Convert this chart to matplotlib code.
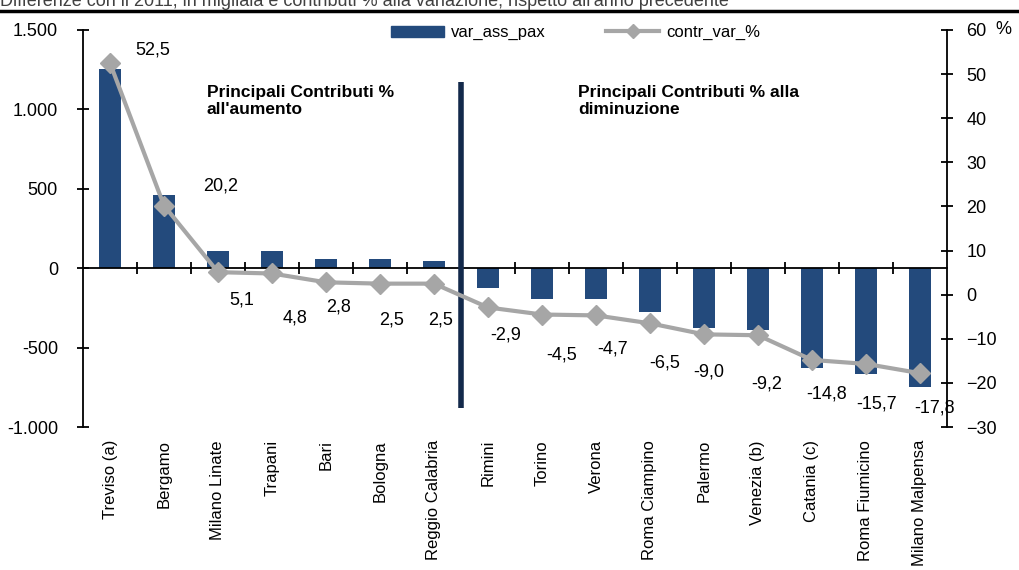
import matplotlib
matplotlib.use("Agg")
import matplotlib.pyplot as plt
from matplotlib.lines import Line2D
from matplotlib.patches import Patch
from matplotlib.ticker import FuncFormatter
import numpy as np

# dati
aeroporti = ["Treviso (a)", "Bergamo", "Milano Linate", "Trapani", "Bari",
             "Bologna", "Reggio Calabria", "Rimini", "Torino", "Verona",
             "Roma Ciampino", "Palermo", "Venezia (b)", "Catania (c)",
             "Roma Fiumicino", "Milano Malpensa"]
var_ass_pax = [1252, 460, 107, 107, 57, 57, 45, -125, -195, -195,
               -277, -377, -390, -629, -667, -748]
contr_var = [52.5, 20.2, 5.1, 4.8, 2.8, 2.5, 2.5, -2.9, -4.5, -4.7,
             -6.5, -9.0, -9.2, -14.8, -15.7, -17.8]
# spostamento etichette (pixel)
lab_off = [(43, 13), (57, 20), (24, -28), (23, -45), (13, -25), (12, -36),
           (7, -36), (18, -28), (20, -40), (17, -34), (15, -40), (5, -38),
           (9, -49), (15, -34), (11, -40), (15, -35)]

FONT = ["Liberation Sans Narrow", "Liberation Sans", "DejaVu Sans"]
plt.rcParams["font.family"] = FONT
plt.rcParams["font.size"] = 13

blu = "#234a7c"
grigio = "#a6a6a6"

fig = plt.figure(figsize=(10.2, 5.7), dpi=100)
ax = fig.add_axes([83 / 1020, 1 - 427 / 570, 864 / 1020, 397 / 570])
ax2 = ax.twinx()

x = np.arange(len(aeroporti))
ax.bar(x, var_ass_pax, width=0.42, color=blu, zorder=2)
ax.set_xlim(-0.5, len(aeroporti) - 0.5)
ax.set_ylim(-1000, 1500)
ax.set_yticks(np.arange(-1000, 1501, 500))
ax.yaxis.set_major_formatter(FuncFormatter(lambda v, p: f"{v:,.0f}".replace(",", ".")))

# asse x sullo zero
ax.spines["bottom"].set_position(("data", 0))
ax.spines["top"].set_visible(False)
ax.spines["right"].set_visible(False)
ax.set_xticks(x[:-1] + 0.5)
ax.set_xticklabels([])
ax.tick_params(axis="x", direction="inout", length=9, width=1.3)
ax.tick_params(axis="y", direction="inout", length=8, width=1.3, pad=14)
for s in ["left", "bottom"]:
    ax.spines[s].set_linewidth(1.3)

for xi, nome in zip(x, aeroporti):
    ax.text(xi, -0.033, nome, transform=ax.get_xaxis_transform(),
            rotation=90, ha="center", va="top", fontsize=12)

# linea di separazione
ax.vlines(6.5, -880, 1170, color="#13294b", linewidth=4, zorder=3)

ax.text(0.143, 0.862, "Principali Contributi %\nall'aumento", transform=ax.transAxes,
        fontsize=12.5, fontweight="bold", va="top", ha="left", linespacing=1.15)
ax.text(0.573, 0.862, "Principali Contributi % alla\ndiminuzione", transform=ax.transAxes,
        fontsize=12.5, fontweight="bold", va="top", ha="left", linespacing=1.15)

# serie contributi
ax2.plot(x, contr_var, color=grigio, linewidth=3, marker="D", markersize=10,
         zorder=4)
ax2.set_ylim(-30, 60)
ax2.set_yticks(np.arange(-30, 61, 10))
ax2.spines["top"].set_visible(False)
ax2.spines["left"].set_visible(False)
ax2.spines["bottom"].set_visible(False)
ax2.spines["right"].set_linewidth(1.3)
ax2.tick_params(axis="y", direction="inout", length=8, width=1.3, pad=10)
ax2.text(1.056, 1.0, "%", transform=ax2.transAxes, fontsize=13, va="center")

for xi, v, (dx, dy) in zip(x, contr_var, lab_off):
    ax2.annotate(f"{v:.1f}".replace(".", ","), (xi, v), xytext=(dx, dy),
                 textcoords="offset pixels", ha="center", va="center",
                 fontsize=13)

handles = [Patch(color=blu), Line2D([], [], color=grigio, linewidth=3, marker="D", markersize=7)]
ax.legend(handles, ["var_ass_pax", "contr_var_%"], loc="center",
          bbox_to_anchor=(0.57, 0.993), ncol=2, frameon=False,
          handlelength=3.2, handletextpad=0.4, columnspacing=3.6, fontsize=12)

# intestazione tagliata
fig.text(0.0, 1 - 6 / 570, "Differenze con il 2011, in migliaia e contributi % alla variazione; rispetto all'anno precedente",
         fontsize=13, color="#404040", va="baseline", ha="left",
         family=["Liberation Sans", "DejaVu Sans"])
fig.add_artist(Line2D([0, 1], [1 - 11 / 570, 1 - 11 / 570], transform=fig.transFigure,
                      color="black", linewidth=2.5))

fig.savefig("out.png", dpi=100)
